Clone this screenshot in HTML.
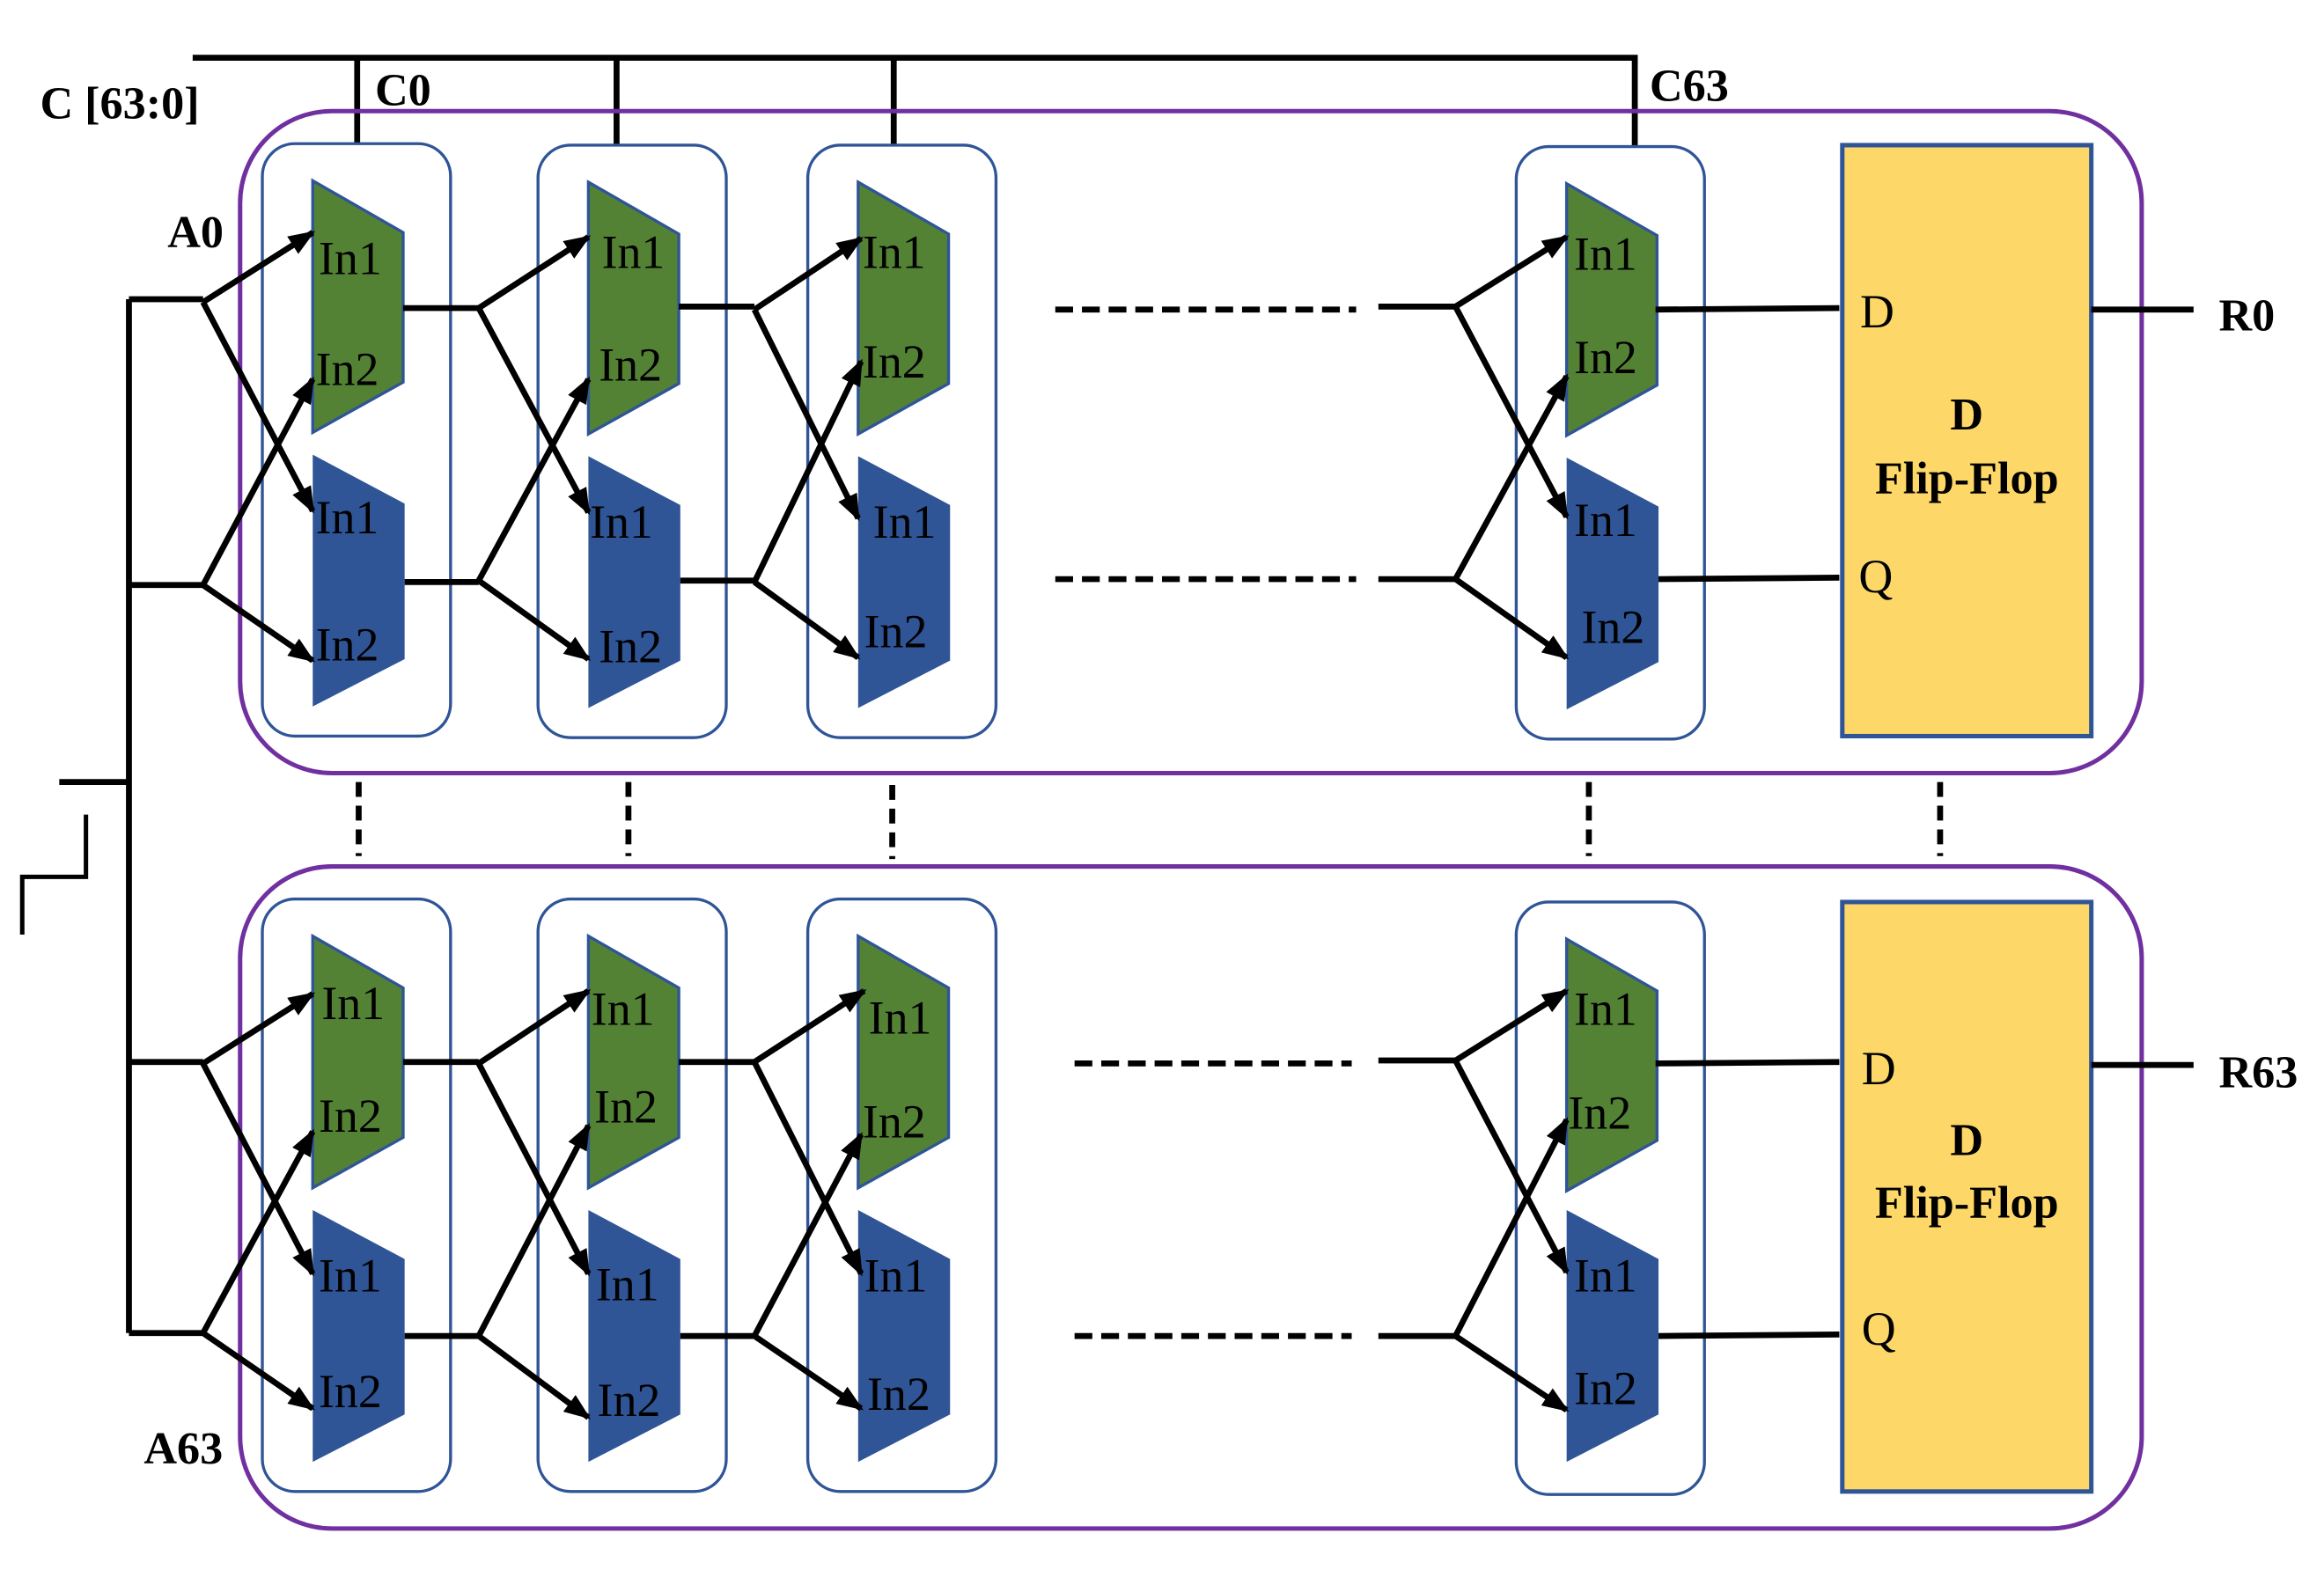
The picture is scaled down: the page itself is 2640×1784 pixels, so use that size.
<!DOCTYPE html>
<html><head><meta charset="utf-8"><style>html,body{margin:0;padding:0;background:#fff}svg{display:block}</style></head>
<body>
<svg width="2640" height="1784" viewBox="0 0 1568 1060" preserveAspectRatio="none" xmlns="http://www.w3.org/2000/svg" font-family="Liberation Serif, serif">
<defs>
<marker id="ar" markerWidth="18" markerHeight="14" refX="16" refY="7" orient="auto" markerUnits="userSpaceOnUse"><path d="M0,0 L18,7 L0,14 Z" fill="#000"/></marker>
</defs>
<g stroke="#000" stroke-width="4" fill="none">
<path d="M130,39 H1103 V99"/>
<path d="M241,39 V97 M416,39 V98 M603,39 V98"/>
<path d="M87,202 V900 M87,202 H137 M87,395 H137 M87,717 H137 M87,900 H137 M40,528 H87"/>
<path d="M15,631 V592 H58 V550" stroke-width="3"/>
</g>
<rect x="162" y="75" width="1283" height="447" rx="62" fill="none" stroke="#7030A0" stroke-width="3"/>
<rect x="162" y="585" width="1283" height="447" rx="62" fill="none" stroke="#7030A0" stroke-width="3"/>
<g stroke="#000" stroke-width="4" stroke-dasharray="10,6">
<path d="M242,528 V578 M424,528 V578 M602,530 V580 M1072,528 V578 M1309,528 V578"/>
</g>
<g stroke="#000" stroke-width="4">
<path d="M712,209 H915 M712,391 H915 M725,718 H912 M725,902 H912" stroke-dasharray="12,6"/>
<path d="M930,207 H982 M930,391 H982 M930,716 H982 M930,902 H982"/>
</g>

<g font-size="32">
<g transform="translate(0,0)">
<rect x="177" y="97" width="127" height="400" rx="22" fill="none" stroke="#2F5597" stroke-width="2"/>
<polygon points="211,122 272,157 272,258 211,292" fill="#548235" stroke="#2F5597" stroke-width="2"/>
<polygon points="211,307 273,340 273,445 211,477" fill="#2F5597"/>
<g fill="#000"><text x="215" y="185">In1</text><text x="213" y="260">In2</text><text x="213" y="360">In1</text><text x="213" y="446">In2</text></g>
<g stroke="#000" stroke-width="4" fill="none" marker-end="url(#ar)"><path d="M137,204 L211,157"/><path d="M137,204 L211,345"/><path d="M137,395 L211,256"/><path d="M137,395 L211,446"/></g>
<g stroke="#000" stroke-width="4"><path d="M272,208 H323 M273,393 H323"/></g>
</g>
<g transform="translate(186,1)">
<rect x="177" y="97" width="127" height="400" rx="22" fill="none" stroke="#2F5597" stroke-width="2"/>
<polygon points="211,122 272,157 272,258 211,292" fill="#548235" stroke="#2F5597" stroke-width="2"/>
<polygon points="211,307 273,340 273,445 211,477" fill="#2F5597"/>
<g fill="#000"><text x="220" y="180">In1</text><text x="218" y="256">In2</text><text x="212" y="362">In1</text><text x="218" y="446">In2</text></g>
<g stroke="#000" stroke-width="4" fill="none" marker-end="url(#ar)"><path d="M137,207 L211,159"/><path d="M137,207 L211,345"/><path d="M137,391 L211,255"/><path d="M137,391 L211,444"/></g>
<g stroke="#000" stroke-width="4"><path d="M272,206 H323 M273,391 H323"/></g>
</g>
<g transform="translate(368,1)">
<rect x="177" y="97" width="127" height="400" rx="22" fill="none" stroke="#2F5597" stroke-width="2"/>
<polygon points="211,122 272,157 272,258 211,292" fill="#548235" stroke="#2F5597" stroke-width="2"/>
<polygon points="211,307 273,340 273,445 211,477" fill="#2F5597"/>
<g fill="#000"><text x="214" y="180">In1</text><text x="214" y="254">In2</text><text x="221" y="362">In1</text><text x="215" y="436">In2</text></g>
<g stroke="#000" stroke-width="4" fill="none" marker-end="url(#ar)"><path d="M141,208 L213,160"/><path d="M141,208 L211,349"/><path d="M141,392 L213,243"/><path d="M141,392 L211,443"/></g>
</g>
<g transform="translate(846,2)">
<rect x="177" y="97" width="127" height="400" rx="22" fill="none" stroke="#2F5597" stroke-width="2"/>
<polygon points="211,122 272,157 272,258 211,292" fill="#548235" stroke="#2F5597" stroke-width="2"/>
<polygon points="211,307 273,340 273,445 211,477" fill="#2F5597"/>
<g fill="#000"><text x="216" y="180">In1</text><text x="216" y="250">In2</text><text x="216" y="360">In1</text><text x="221" y="432">In2</text></g>
<g stroke="#000" stroke-width="4" fill="none" marker-end="url(#ar)"><path d="M136,205 L211,158"/><path d="M136,205 L211,347"/><path d="M136,389 L211,252"/><path d="M136,389 L211,442"/></g>
</g>
<g transform="translate(0,510)">
<g transform="translate(0,0)">
<rect x="177" y="97" width="127" height="400" rx="22" fill="none" stroke="#2F5597" stroke-width="2"/>
<polygon points="211,122 272,157 272,258 211,292" fill="#548235" stroke="#2F5597" stroke-width="2"/>
<polygon points="211,307 273,340 273,445 211,477" fill="#2F5597"/>
<g fill="#000"><text x="217" y="178">In1</text><text x="215" y="254">In2</text><text x="215" y="362">In1</text><text x="215" y="440">In2</text></g>
<g stroke="#000" stroke-width="4" fill="none" marker-end="url(#ar)"><path d="M137,208 L211,161"/><path d="M137,208 L211,350"/><path d="M137,390 L211,254"/><path d="M137,390 L211,441"/></g>
<g stroke="#000" stroke-width="4"><path d="M272,207 H323 M273,392 H323"/></g>
</g>
<g transform="translate(186,0)">
<rect x="177" y="97" width="127" height="400" rx="22" fill="none" stroke="#2F5597" stroke-width="2"/>
<polygon points="211,122 272,157 272,258 211,292" fill="#548235" stroke="#2F5597" stroke-width="2"/>
<polygon points="211,307 273,340 273,445 211,477" fill="#2F5597"/>
<g fill="#000"><text x="213" y="182">In1</text><text x="215" y="248">In2</text><text x="216" y="368">In1</text><text x="217" y="446">In2</text></g>
<g stroke="#000" stroke-width="4" fill="none" marker-end="url(#ar)"><path d="M137,208 L211,159"/><path d="M137,208 L211,350"/><path d="M137,392 L211,250"/><path d="M137,392 L211,447"/></g>
<g stroke="#000" stroke-width="4"><path d="M272,207 H323 M273,392 H323"/></g>
</g>
<g transform="translate(368,0)">
<rect x="177" y="97" width="127" height="400" rx="22" fill="none" stroke="#2F5597" stroke-width="2"/>
<polygon points="211,122 272,157 272,258 211,292" fill="#548235" stroke="#2F5597" stroke-width="2"/>
<polygon points="211,307 273,340 273,445 211,477" fill="#2F5597"/>
<g fill="#000"><text x="218" y="188">In1</text><text x="214" y="258">In2</text><text x="215" y="362">In1</text><text x="217" y="442">In2</text></g>
<g stroke="#000" stroke-width="4" fill="none" marker-end="url(#ar)"><path d="M141,207 L215,159"/><path d="M141,207 L213,350"/><path d="M141,392 L213,256"/><path d="M141,392 L213,441"/></g>
</g>
<g transform="translate(846,0)">
<rect x="177" y="99" width="127" height="400" rx="22" fill="none" stroke="#2F5597" stroke-width="2"/>
<polygon points="211,124 272,159 272,260 211,294" fill="#548235" stroke="#2F5597" stroke-width="2"/>
<polygon points="211,307 273,340 273,445 211,477" fill="#2F5597"/>
<g fill="#000"><text x="216" y="182">In1</text><text x="212" y="252">In2</text><text x="216" y="362">In1</text><text x="216" y="438">In2</text></g>
<g stroke="#000" stroke-width="4" fill="none" marker-end="url(#ar)"><path d="M136,206 L211,159"/><path d="M136,206 L211,349"/><path d="M136,392 L211,246"/><path d="M136,392 L211,442"/></g>
</g>
</g>
</g>

<rect x="1243" y="98" width="168" height="399" fill="#FDD868" stroke="#2F5597" stroke-width="3"/>
<rect x="1243" y="609" width="168" height="398" fill="#FDD868" stroke="#2F5597" stroke-width="3"/>
<g stroke="#000" stroke-width="4">
<path d="M1117,209 L1241,208 M1119,391 L1241,390 M1411,209 H1480"/>
<path d="M1117,718 L1241,717 M1119,902 L1241,901 M1411,719 H1480"/>
</g>
<g font-size="32" fill="#000">
<text x="1255" y="221">D</text><text x="1254" y="400">Q</text>
<text x="1256" y="732">D</text><text x="1256" y="908">Q</text>
</g>
<g font-size="31" font-weight="bold" fill="#000" text-anchor="middle">
<text x="1327" y="290">D</text><text x="1327" y="333">Flip-Flop</text>
<text x="1327" y="780">D</text><text x="1327" y="822">Flip-Flop</text>
</g>
<g font-size="31" font-weight="bold" fill="#000">
<text x="1497" y="223">R0</text>
<text x="1497" y="734">R63</text>
<text x="27" y="80">C [63:0]</text>
<text x="253" y="71">C0</text>
<text x="1113" y="68">C63</text>
<text x="113" y="167">A0</text>
<text x="97" y="988">A63</text>
</g>
</svg>
</body></html>
